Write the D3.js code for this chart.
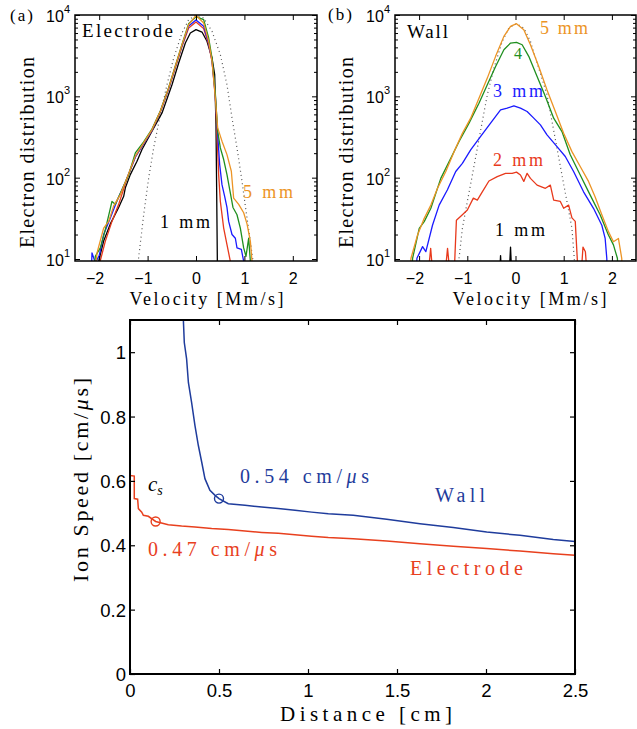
<!DOCTYPE html>
<html><head><meta charset="utf-8">
<script src="https://cdn.jsdelivr.net/npm/d3@7"></script>
<style>body{margin:0;background:#fff}svg{display:block}</style>
</head><body>
<svg id="c" width="637" height="729"></svg>
<script>
// ---------- DATA ----------
// Velocity [Mm/s], electron distribution (counts) — panel (a) Electrode
const electrode1mm = [[-2.03,5],[-2.011,9.4],[-1.908,16.6],[-1.77,27],[-1.598,43],[-1.494,59],[-1.46,75],[-1.357,109],[-1.219,159],[-1.116,222],[-0.909,372],[-0.702,625],[-0.496,1390],[-0.358,2570],[-0.22,4530],[-0.117,6010],[0,6600],[0.124,6170],[0.227,4750],[0.331,2960],[0.386,1850],[0.413,450],[0.427,68],[0.441,9.4],[0.45,5]];
const electrode2mm = [[-2.0,5],[-1.98,9.4],[-1.873,16.6],[-1.736,29],[-1.598,47],[-1.426,97],[-1.253,180],[-1.081,262],[-0.909,380],[-0.737,640],[-0.565,1230],[-0.427,2250],[-0.289,4100],[-0.152,6900],[0,8200],[0.158,6800],[0.262,4330],[0.331,2700],[0.399,1050],[0.434,339],[0.468,109],[0.503,51],[0.572,24],[0.64,15],[0.709,9.4],[0.73,5]];
const electrode3mm = [[-2.17,5],[-2.149,11.9],[-2.08,9],[-2.0,11],[-1.908,20],[-1.77,32],[-1.632,52],[-1.46,88],[-1.253,180],[-1.081,262],[-0.909,385],[-0.737,650],[-0.565,1250],[-0.427,2300],[-0.289,4200],[-0.152,7300],[0,8690],[0.158,7260],[0.262,4530],[0.331,2750],[0.399,1000],[0.448,339],[0.489,145],[0.537,82],[0.592,59],[0.64,43],[0.675,29],[0.744,20],[0.813,18],[0.847,13.7],[0.937,13.1],[0.985,9.4],[1.0,5]];
const electrode4mm = [[-2.12,5],[-2.08,10.8],[-1.977,13.7],[-1.873,23],[-1.736,51],[-1.667,47],[-1.529,71],[-1.391,109],[-1.253,202],[-1.081,275],[-0.909,395],[-0.737,660],[-0.565,1280],[-0.427,2360],[-0.289,4350],[-0.152,7800],[0,9540],[0.158,8770],[0.262,5210],[0.331,2960],[0.399,1100],[0.448,372],[0.503,232],[0.572,167],[0.64,109],[0.709,65],[0.764,43],[0.847,35],[0.916,24],[0.985,13.7],[1.033,10.8],[1.088,18],[1.123,9.4],[1.14,5]];
const electrode5mm = [[-2.11,5],[-2.045,11.9],[-1.908,24],[-1.804,29],[-1.701,45],[-1.563,62],[-1.426,99],[-1.253,184],[-1.081,268],[-0.909,390],[-0.737,656],[-0.565,1270],[-0.427,2340],[-0.289,4320],[-0.152,7600],[0,9900],[0.158,7980],[0.262,4750],[0.331,2700],[0.399,955],[0.448,409],[0.537,281],[0.64,192],[0.73,120],[0.778,56],[0.882,47],[0.985,37],[1.054,27],[1.123,16.6],[1.157,9.4],[1.18,5]];
const electrodeMaxwell = [[-1.25,5],[-1.185,10.4],[-1.081,35],[-0.978,99],[-0.875,232],[-0.737,597],[-0.599,1390],[-0.461,2960],[-0.289,6010],[-0.152,8770],[0,9900],[0.158,9190],[0.331,6300],[0.503,3260],[0.64,1390],[0.744,543],[0.847,232],[0.95,91],[1.033,39],[1.123,16.6],[1.178,9.4],[1.22,5]];

// panel (b) Wall
const wall1mm = [[-0.6,5],[-0.34,5],[-0.31,11],[-0.28,5],[-0.14,5],[-0.103,14],[-0.07,5],[0.5,5]];
const wall2mm = [[-1.83,5],[-1.76,13.5],[-1.70,5],[-1.48,5],[-1.41,13.5],[-1.34,5],[-1.28,5],[-1.226,30],[-1.102,35],[-0.999,40],[-0.875,56],[-0.792,53],[-0.689,67],[-0.551,91],[-0.379,103],[-0.207,113],[-0.069,113],[0.021,117],[0.103,108],[0.172,90],[0.241,113],[0.31,98],[0.448,81],[0.62,74],[0.723,81],[0.792,53],[0.93,51],[0.999,42],[1.102,46],[1.171,32],[1.24,29],[1.309,5],[1.35,5],[1.40,14],[1.45,12.3],[1.50,5]];
const wall3mm = [[-2.07,5],[-2.045,10.2],[-1.928,14.2],[-1.86,12.3],[-1.722,26],[-1.584,46],[-1.412,71],[-1.24,119],[-1.102,150],[-0.93,220],[-0.723,321],[-0.517,468],[-0.31,682],[-0.172,716],[-0.034,764],[0.103,716],[0.241,651],[0.379,539],[0.517,446],[0.654,336],[0.861,241],[1.033,182],[1.205,119],[1.412,67],[1.618,42],[1.791,26],[1.86,17.9],[1.894,10.2],[1.91,5]];
const wall4mm = [[-2.16,5],[-2.135,10.2],[-1.997,23.8],[-1.894,28.8],[-1.756,42],[-1.55,98],[-1.343,173],[-1.171,278],[-0.964,468],[-0.758,824],[-0.585,1387],[-0.413,2330],[-0.241,3740],[-0.103,4520],[0.021,4600],[0.138,4310],[0.275,3100],[0.448,1757],[0.62,995],[0.792,539],[0.964,369],[1.136,191],[1.343,108],[1.55,61],[1.756,35],[1.928,19.7],[2.032,14.9],[2.114,10.2],[2.14,5]];
const wall5mm = [[-2.2,5],[-2.169,10.2],[-2.032,19.7],[-1.894,31.6],[-1.756,46],[-1.618,74],[-1.446,119],[-1.274,209],[-1.102,352],[-0.93,539],[-0.758,950],[-0.585,1675],[-0.413,3100],[-0.241,5460],[-0.103,7240],[0.021,7820],[0.172,6600],[0.31,4310],[0.482,2330],[0.654,1200],[0.826,651],[0.999,352],[1.171,209],[1.343,137],[1.515,90],[1.653,58],[1.791,35],[1.928,21.7],[2.032,16.3],[2.135,17.9],[2.204,10.2],[2.23,5]];
const wallMaxwell = [[-1.2,5],[-1.171,10.2],[-1.102,23.8],[-0.999,51],[-0.895,108],[-0.792,230],[-0.689,490],[-0.585,1045],[-0.448,2220],[-0.275,4740],[-0.138,6920],[0.021,7820],[0.172,6920],[0.31,4740],[0.482,2220],[0.654,1045],[0.758,490],[0.861,230],[0.964,108],[1.067,51],[1.171,23.8],[1.219,10.2],[1.25,5]];

// bottom panel: distance [cm], ion speed [cm/us]
const wallSpeed = [[0.298,1.15],[0.3,1.098],[0.305,1.03],[0.318,0.979],[0.328,0.906],[0.346,0.844],[0.365,0.772],[0.384,0.71],[0.403,0.658],[0.421,0.607],[0.449,0.571],[0.478,0.555],[0.5,0.545],[0.552,0.529],[0.646,0.524],[0.74,0.519],[0.833,0.514],[0.927,0.509],[1.02,0.503],[1.114,0.498],[1.254,0.493],[1.442,0.481],[1.629,0.467],[1.816,0.455],[2.004,0.441],[2.191,0.431],[2.378,0.418],[2.5,0.412]];
const electrodeSpeed = [[0,0.617],[0.024,0.615],[0.024,0.545],[0.043,0.543],[0.047,0.514],[0.066,0.503],[0.075,0.493],[0.103,0.49],[0.144,0.474],[0.215,0.464],[0.29,0.46],[0.365,0.457],[0.459,0.452],[0.552,0.449],[0.646,0.444],[0.74,0.44],[0.833,0.437],[0.927,0.433],[1.02,0.428],[1.114,0.424],[1.254,0.42],[1.442,0.413],[1.629,0.405],[1.816,0.397],[2.004,0.39],[2.191,0.382],[2.378,0.374],[2.5,0.369]];
const soundSpeedPoints = [[0.5,0.545],[0.144,0.474]]; // wall, electrode

// ticks
const velTicks = [-2,-1,0,1,2];
const decadeTicks = [10,100,1000,10000];
const distTicks = [0,0.5,1,1.5,2,2.5];
const speedTicks = [0,0.2,0.4,0.6,0.8,1];

// ---------- STYLE ----------
const SERIF = "Liberation Serif, Times New Roman, serif";
const SANS = "Liberation Sans, Arial, Helvetica, sans-serif";
const C = {black:"#000000", red:"#e8391c", blue:"#1a1aff", green:"#1f8f1f", orange:"#ec9425", dot:"#555555",
           bBlue:"#1f3c9c", bRed:"#e8401e"};

const svg = d3.select("#c");

function label(g, str, x, y, o = {}) {
  const t = g.append("text").attr("x", x).attr("y", y)
    .style("font-family", o.sans ? SANS : SERIF)
    .attr("font-size", o.size || 18).attr("fill", o.color || "#000");
  if (o.anchor) t.attr("text-anchor", o.anchor);
  if (o.rotate) t.attr("transform", `rotate(-90 ${x} ${y})`);
  if (Array.isArray(str)) {
    str.forEach(p => {
      const ts = t.append("tspan").text(p.t);
      if (p.italic) ts.attr("font-style", "italic");
      if (p.dy) ts.attr("dy", p.dy);
      if (p.size) ts.attr("font-size", p.size);
    });
  } else t.text(str);
  if (o.len) t.attr("textLength", o.len).attr("lengthAdjust", "spacing");
  return t;
}

// ---------- LOG PANELS ----------
function logPanel(cfg) {
  const g = svg.append("g");
  const x = d3.scaleLinear().domain([-2.5, 2.5]).range([cfg.x0, cfg.x1]);
  const y = d3.scaleLog().domain([9.45, 1e4]).range([261, 15]);
  const id = "clip" + cfg.id;
  svg.append("clipPath").attr("id", id).append("rect")
    .attr("x", cfg.x0).attr("y", 15).attr("width", cfg.x1 - cfg.x0).attr("height", 246);
  const line = d3.line().x(d => x(d[0])).y(d => y(d[1]));
  const cg = g.append("g").attr("clip-path", `url(#${id})`);
  cg.append("path").datum(cfg.maxwell).attr("d", line).attr("fill", "none")
    .attr("stroke", C.dot).attr("stroke-width", 1.2).attr("stroke-dasharray", "1,3.2");
  cfg.series.forEach(s => {
    cg.append("path").datum(s.data).attr("d", line).attr("fill", "none")
      .attr("stroke", s.color).attr("stroke-width", 1.3).attr("stroke-linejoin", "round");
  });
  const minor = [];
  [10, 100, 1000].forEach(b => { for (let k = 2; k <= 9; k++) minor.push(b * k); });
  const bottom = g.append("g").attr("transform", "translate(0,261)")
    .call(d3.axisBottom(x).tickValues(velTicks).tickSize(-5).tickPadding(11.5).tickFormat(d3.format("~g")));
  bottom.selectAll(".tick text").style("font-family", SANS).attr("font-size", 16)
    .filter(d => d < 0).attr("text-anchor", "end").attr("x", 4.5);
  g.append("g").attr("transform", "translate(0,15)")
    .call(d3.axisTop(x).tickValues(velTicks).tickSize(-5).tickFormat(""));
  const left = g.append("g").attr("transform", `translate(${cfg.x0},0)`)
    .call(d3.axisLeft(y).tickValues(decadeTicks).tickSize(-5).tickPadding(5).tickFormat(""));
  left.selectAll(".tick text").style("font-family", SANS).attr("font-size", 16).attr("dy", "0.4em")
    .each(function(d) {
      const t = d3.select(this);
      t.append("tspan").text("10");
      t.append("tspan").text(Math.round(Math.log10(d))).attr("font-size", 11).attr("dy", "-0.8em");
    });
  g.append("g").attr("transform", `translate(${cfg.x0},0)`)
    .call(d3.axisLeft(y).tickValues(minor).tickSize(-3).tickFormat(""));
  g.append("g").attr("transform", `translate(${cfg.x1},0)`)
    .call(d3.axisRight(y).tickValues(decadeTicks).tickSize(-5).tickFormat(""));
  g.append("g").attr("transform", `translate(${cfg.x1},0)`)
    .call(d3.axisRight(y).tickValues(minor).tickSize(-3).tickFormat(""));
  g.selectAll(".domain").remove();
  g.selectAll(".tick line").attr("stroke", "#000").attr("stroke-width", 1);
  g.append("rect").attr("x", cfg.x0).attr("y", 15).attr("width", cfg.x1 - cfg.x0).attr("height", 246)
    .attr("fill", "none").attr("stroke", "#000").attr("stroke-width", 1.5);
  label(g, "Electron distribution", cfg.yLabX, 152.5, {size: 20, rotate: true, anchor: "middle", len: 191});
  label(g, "Velocity [Mm/s]", cfg.xLabX, 305, {size: 18, anchor: "middle", len: 154});
  cfg.texts.forEach(t => label(g, t.s, t.x, t.y, {size: t.size || 18, color: t.color, len: t.len}));
  return g;
}

logPanel({
  id: "a", x0: 75, x1: 317, yLabX: 34, xLabX: 206.5,
  maxwell: electrodeMaxwell,
  series: [
    {data: electrode1mm, color: C.black},
    {data: electrode2mm, color: C.red},
    {data: electrode3mm, color: C.blue},
    {data: electrode4mm, color: C.green},
    {data: electrode5mm, color: C.orange}
  ],
  texts: [
    {s: "(a)", x: 10, y: 21, len: 23, size: 17, color: "#000"},
    {s: "Electrode", x: 82, y: 37, len: 91, size: 19, color: "#000"},
    {s: "5 mm", x: 243, y: 198, len: 50, color: C.orange},
    {s: "1 mm", x: 160, y: 228, len: 50, color: "#000"}
  ]
});

logPanel({
  id: "b", x0: 395, x1: 636, yLabX: 353, xLabX: 529.5,
  maxwell: wallMaxwell,
  series: [
    {data: wall1mm, color: C.black},
    {data: wall2mm, color: C.red},
    {data: wall3mm, color: C.blue},
    {data: wall4mm, color: C.green},
    {data: wall5mm, color: C.orange}
  ],
  texts: [
    {s: "(b)", x: 328, y: 20, len: 24, size: 17, color: "#000"},
    {s: "Wall", x: 407, y: 38, len: 41, size: 19, color: "#000"},
    {s: "5 mm", x: 540, y: 34, len: 48, color: C.orange},
    {s: "4", x: 514, y: 59, size: 16, color: C.green},
    {s: "3 mm", x: 493, y: 97, len: 50, color: C.blue},
    {s: "2 mm", x: 493, y: 166, len: 50, color: C.red},
    {s: "1 mm", x: 495, y: 236, len: 50, color: "#000"}
  ]
});

// ---------- BOTTOM PANEL ----------
{
  const g = svg.append("g");
  const x0 = 130, x1 = 575, yT = 320, yB = 674;
  const x = d3.scaleLinear().domain([0, 2.5]).range([x0, x1]);
  const y = d3.scaleLinear().domain([0, 1.1]).range([yB, yT]);
  svg.append("clipPath").attr("id", "clipc").append("rect")
    .attr("x", x0).attr("y", yT).attr("width", x1 - x0).attr("height", yB - yT);
  const line = d3.line().x(d => x(d[0])).y(d => y(d[1]));
  const cg = g.append("g").attr("clip-path", "url(#clipc)");
  cg.append("path").datum(wallSpeed).attr("d", line).attr("fill", "none")
    .attr("stroke", C.bBlue).attr("stroke-width", 1.5);
  cg.append("path").datum(electrodeSpeed).attr("d", line).attr("fill", "none")
    .attr("stroke", C.bRed).attr("stroke-width", 1.5);
  cg.selectAll("circle").data(soundSpeedPoints).join("circle")
    .attr("cx", d => x(d[0])).attr("cy", d => y(d[1])).attr("r", 4.5)
    .attr("fill", "none").attr("stroke", (d, i) => i === 0 ? C.bBlue : C.bRed).attr("stroke-width", 1.4);

  const bx = g.append("g").attr("transform", `translate(0,${yB})`)
    .call(d3.axisBottom(x).tickValues(distTicks).tickSize(-5).tickPadding(9.5).tickFormat(d3.format("~g")));
  bx.selectAll(".tick text").style("font-family", SANS).attr("font-size", 18.5);
  g.append("g").attr("transform", `translate(0,${yT})`)
    .call(d3.axisTop(x).tickValues(distTicks).tickSize(-5).tickFormat(""));
  const by = g.append("g").attr("transform", `translate(${x0},0)`)
    .call(d3.axisLeft(y).tickValues(speedTicks).tickSize(-5).tickPadding(4).tickFormat(d3.format("~g")));
  by.selectAll(".tick text").style("font-family", SANS).attr("font-size", 18.5).attr("dy", "0.36em");
  g.append("g").attr("transform", `translate(${x1},0)`)
    .call(d3.axisRight(y).tickValues(speedTicks).tickSize(-5).tickFormat(""));
  g.selectAll(".domain").remove();
  g.selectAll(".tick line").attr("stroke", "#000").attr("stroke-width", 1.2);
  g.append("rect").attr("x", x0).attr("y", yT).attr("width", x1 - x0).attr("height", yB - yT)
    .attr("fill", "none").attr("stroke", "#000").attr("stroke-width", 2);

  label(g, [{t: "Ion Speed [cm/"}, {t: "μ", italic: true}, {t: "s]"}], 88, 480, {size: 22, rotate: true, anchor: "middle", len: 204});
  label(g, "Distance [cm]", 366, 721, {size: 21, anchor: "middle", len: 172});
  label(g, [{t: "c", italic: true}, {t: "s", italic: true, size: 14, dy: 4}], 148, 491, {size: 21});
  label(g, [{t: "0.54 cm/"}, {t: "μ", italic: true}, {t: "s"}], 240, 483, {size: 20, color: C.bBlue, len: 129});
  label(g, "Wall", 435, 502, {size: 20, color: C.bBlue, len: 50});
  label(g, [{t: "0.47 cm/"}, {t: "μ", italic: true}, {t: "s"}], 148, 556, {size: 20, color: C.bRed, len: 129});
  label(g, "Electrode", 410, 575, {size: 20, color: C.bRed, len: 113});
}
</script>
</body></html>
